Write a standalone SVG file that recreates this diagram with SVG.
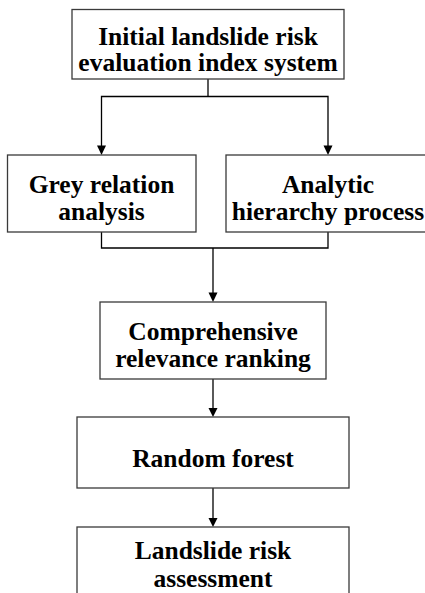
<svg xmlns="http://www.w3.org/2000/svg" width="425" height="593" viewBox="0 0 425 593">
<style>
.box{fill:#fff;stroke:#3a3a3a;stroke-width:1.3}
.t{font-family:"Liberation Serif","Times New Roman",serif;font-weight:bold;font-size:25.5px;fill:#000;text-anchor:middle}
.c{fill:none;stroke:#000;stroke-width:1.3}
</style>
<defs>
<marker id="ah" viewBox="0 0 10 10" refX="10" refY="5" markerWidth="9" markerHeight="9" markerUnits="userSpaceOnUse" orient="auto">
<path d="M0,0 L10,5 L0,10 Z" fill="#000"/>
</marker>
</defs>
<rect width="425" height="593" fill="#fff"/>
<g id="connectors">
<polyline class="c" points="208,79 208,96.5"/>
<polyline class="c" points="101.5,146 101.5,96.5 328,96.5 328,146"/>
<path d="M101.5,155 L97,145.5 L106,145.5 Z" fill="#000"/>
<path d="M328,155 L323.5,145.5 L332.5,145.5 Z" fill="#000"/>
<polyline class="c" points="101.5,232 101.5,248 328,248 328,232"/>
<polyline class="c" points="213,248 213,293"/>
<path d="M213,302 L208.5,292.5 L217.5,292.5 Z" fill="#000"/>
<polyline class="c" points="213,379 213,409"/>
<path d="M213,417 L208.5,408 L217.5,408 Z" fill="#000"/>
<polyline class="c" points="213,488 213,518"/>
<path d="M213,527 L208.5,518 L217.5,518 Z" fill="#000"/>
</g>
<g id="node-initial">
<rect class="box" x="72" y="9.5" width="272" height="69.5"/>
<text class="t" x="208" y="45">Initial landslide risk</text>
<text class="t" x="208" y="71">evaluation index system</text>
</g>
<g id="node-grey">
<rect class="box" x="7.5" y="155" width="188.5" height="77"/>
<text class="t" x="101.5" y="193">Grey relation</text>
<text class="t" x="101.5" y="220">analysis</text>
</g>
<g id="node-ahp">
<rect class="box" x="226" y="155" width="210" height="77"/>
<text class="t" x="328" y="193">Analytic</text>
<text class="t" x="328" y="220">hierarchy process</text>
</g>
<g id="node-ranking">
<rect class="box" x="100" y="302" width="226" height="77"/>
<text class="t" x="213" y="340">Comprehensive</text>
<text class="t" x="213" y="367">relevance ranking</text>
</g>
<g id="node-rf">
<rect class="box" x="77" y="417" width="272" height="71"/>
<text class="t" x="213" y="467">Random forest</text>
</g>
<g id="node-assessment">
<rect class="box" x="77" y="527" width="272" height="80"/>
<text class="t" x="213" y="559">Landslide risk</text>
<text class="t" x="213" y="587">assessment</text>
</g>
</svg>
